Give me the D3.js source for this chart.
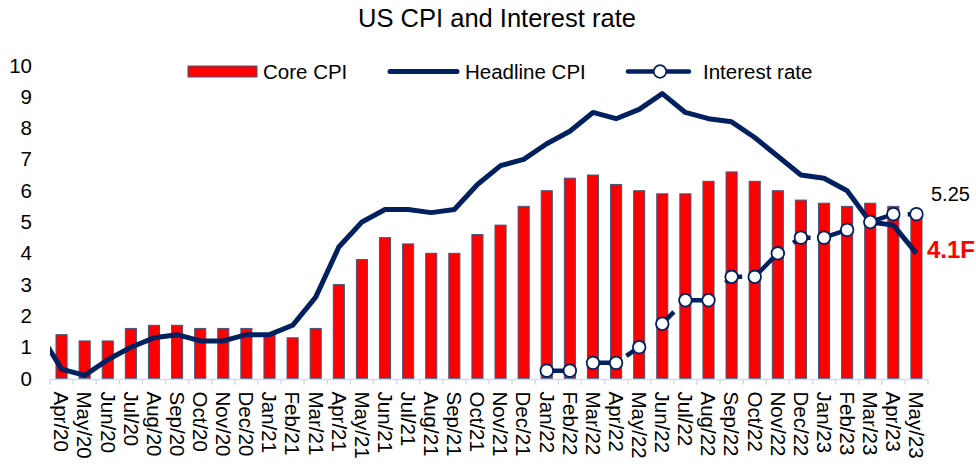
<!DOCTYPE html>
<html>
<head>
<meta charset="utf-8">
<script src="https://cdn.jsdelivr.net/npm/d3@7"></script>
<style>
  body { margin: 0; background: #fff; }
  svg { display: block; font-family: "Liberation Sans", Arial, sans-serif; }
</style>
</head>
<body>
<svg id="chart" width="976" height="464"></svg>
<script>
const months = [
  'Apr/20', 'May/20', 'Jun/20', 'Jul/20', 'Aug/20', 'Sep/20', 'Oct/20', 'Nov/20', 'Dec/20',
  'Jan/21', 'Feb/21', 'Mar/21', 'Apr/21', 'May/21', 'Jun/21', 'Jul/21', 'Aug/21', 'Sep/21',
  'Oct/21', 'Nov/21', 'Dec/21', 'Jan/22', 'Feb/22', 'Mar/22', 'Apr/22', 'May/22', 'Jun/22',
  'Jul/22', 'Aug/22', 'Sep/22', 'Oct/22', 'Nov/22', 'Dec/22', 'Jan/23', 'Feb/23', 'Mar/23',
  'Apr/23', 'May/23',
];

const coreCpi = [
  1.4, 1.2, 1.2, 1.6, 1.7, 1.7, 1.6, 1.6, 1.6,
  1.4, 1.3, 1.6, 3.0, 3.8, 4.5, 4.3, 4.0, 4.0, 4.6, 4.9, 5.5,
  6.0, 6.4, 6.5, 6.2, 6.0, 5.9, 5.9, 6.3, 6.6, 6.3, 6.0, 5.7,
  5.6, 5.5, 5.6, 5.5, 5.3,
];

// the headline line comes in from the month before Apr/20, clipped at the plot edge
const headlineStart = { month: 'Mar/20', value: 1.5 };
const headlineCpi = [
  0.3, 0.1, 0.6, 1.0, 1.3, 1.4, 1.2, 1.2, 1.4,
  1.4, 1.7, 2.6, 4.2, 5.0, 5.4, 5.4, 5.3, 5.4, 6.2, 6.8, 7.0,
  7.5, 7.9, 8.5, 8.3, 8.6, 9.1, 8.5, 8.3, 8.2, 7.7, 7.1, 6.5,
  6.4, 6.0, 5.0, 4.9, 4.0,
];

const rateMonths = months.slice(months.indexOf('Jan/22'));
const interestRate = [
  0.25, 0.25, 0.5, 0.5, 1.0, 1.75, 2.5, 2.5, 3.25, 3.25, 4.0, 4.5,
  4.5, 4.75, 5.0, 5.25, 5.25,
];

const yTicks = [0, 1, 2, 3, 4, 5, 6, 7, 8, 9, 10];
const endLabels = { rate: '5.25', headline: '4.1F' };

const navy = '#002060';
const fs = 20.5;
const svg = d3.select('#chart');
const left = 50;
const right = 928;

const x = d3.scaleBand()
  .domain(months)
  .range([left, right])
  .paddingInner(0.52)
  .paddingOuter(0.26);
const xc = m => {
  if (m === headlineStart.month) return x(months[0]) + x.bandwidth() / 2 - x.step();
  return x(m) + x.bandwidth() / 2;
};
const y = d3.scaleLinear().domain([0, 10]).range([378.5, 65.5]);

// title
svg.append('text')
  .attr('x', 497)
  .attr('y', 27)
  .attr('text-anchor', 'middle')
  .attr('font-size', 25.5)
  .attr('fill', '#000')
  .text('US CPI and Interest rate');

// y tick labels (no axis line)
const gy = svg.append('g')
  .attr('transform', `translate(${left},0)`)
  .call(d3.axisLeft(y).tickValues(yTicks).tickSize(0).tickPadding(18));
gy.select('.domain').remove();
gy.selectAll('text')
  .attr('font-size', fs)
  .attr('font-family', '"Liberation Sans", Arial, sans-serif')
  .attr('fill', '#000');

// bars
svg.append('g').selectAll('rect')
  .data(months.map((m, i) => ({ m, v: coreCpi[i] })))
  .enter().append('rect')
  .attr('x', d => x(d.m))
  .attr('y', d => y(d.v))
  .attr('width', x.bandwidth())
  .attr('height', d => y(0) - y(d.v))
  .attr('fill', '#ff0000')
  .attr('stroke', '#41577f')
  .attr('stroke-width', 1);

// x axis
const gx = svg.append('g')
  .attr('transform', `translate(0,${y(0) + 1})`);
gx.append('line')
  .attr('x1', left).attr('x2', right)
  .attr('stroke', '#d3dbee').attr('stroke-width', 1.5);
gx.selectAll('.tk')
  .data(d3.range(months.length + 1))
  .enter().append('line')
  .attr('class', 'tk')
  .attr('x1', i => left + i * x.step())
  .attr('x2', i => left + i * x.step())
  .attr('y1', 0).attr('y2', 5)
  .attr('stroke', '#d3dbee').attr('stroke-width', 1.5);
gx.selectAll('text')
  .data(months)
  .enter().append('text')
  .attr('transform', m => `translate(${xc(m)},12) rotate(90)`)
  .attr('dy', '0.35em')
  .attr('font-size', fs)
  .attr('fill', '#000')
  .text(m => m);

// headline line
svg.append('clipPath').attr('id', 'plotclip')
  .append('rect').attr('x', left).attr('y', 0).attr('width', right - left + 20).attr('height', 464);

const headlinePts = [headlineStart].concat(months.map((m, i) => ({ month: m, value: headlineCpi[i] })));
const line = d3.line().x(d => xc(d.month)).y(d => y(d.value));

svg.append('path')
  .datum(headlinePts)
  .attr('clip-path', 'url(#plotclip)')
  .attr('d', line)
  .attr('fill', 'none')
  .attr('stroke', navy)
  .attr('stroke-width', 5)
  .attr('stroke-linejoin', 'round');

// interest rate line (dashed) + markers
const ratePts = rateMonths.map((m, i) => ({ month: m, value: interestRate[i] }));
svg.append('path')
  .datum(ratePts)
  .attr('d', line)
  .attr('fill', 'none')
  .attr('stroke', navy)
  .attr('stroke-width', 4.5)
  .attr('stroke-dasharray', '22,24,19,18');

svg.append('g').selectAll('circle')
  .data(ratePts)
  .enter().append('circle')
  .attr('cx', d => xc(d.month))
  .attr('cy', d => y(d.value))
  .attr('r', 6.3)
  .attr('fill', '#fff')
  .attr('stroke', navy)
  .attr('stroke-width', 1.8);

// end labels
svg.append('text')
  .attr('x', 931).attr('y', 201)
  .attr('font-size', 20).attr('fill', '#000')
  .text(endLabels.rate);
svg.append('text')
  .attr('x', 927).attr('y', 258)
  .attr('font-size', 24).attr('font-weight', 'bold').attr('fill', '#ff0000')
  .text(endLabels.headline);

// legend
const lg = svg.append('g').attr('font-size', fs).attr('fill', '#000');
lg.append('rect')
  .attr('x', 188).attr('y', 66).attr('width', 69).attr('height', 11)
  .attr('fill', '#ff0000').attr('stroke', '#41577f').attr('stroke-width', 1);
lg.append('text').attr('x', 263).attr('y', 78.5).text('Core CPI');
lg.append('line')
  .attr('x1', 390).attr('x2', 457).attr('y1', 71.5).attr('y2', 71.5)
  .attr('stroke', navy).attr('stroke-width', 5).attr('stroke-linecap', 'round');
lg.append('text').attr('x', 465).attr('y', 78.5).text('Headline CPI');
lg.append('line')
  .attr('x1', 628).attr('x2', 689).attr('y1', 71.5).attr('y2', 71.5)
  .attr('stroke', navy).attr('stroke-width', 4.5).attr('stroke-linecap', 'round');
lg.append('circle')
  .attr('cx', 660).attr('cy', 71.5).attr('r', 6.3)
  .attr('fill', '#fff').attr('stroke', navy).attr('stroke-width', 1.8);
lg.append('text').attr('x', 703).attr('y', 78.5).text('Interest rate');
</script>
</body>
</html>
